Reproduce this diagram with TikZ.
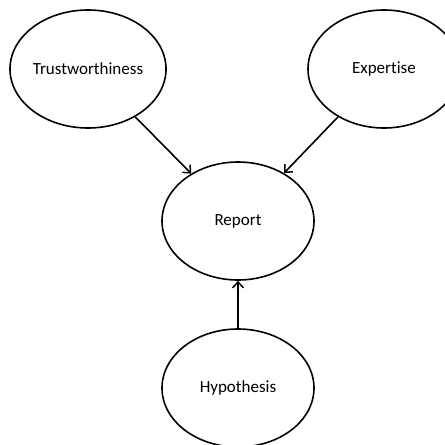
\documentclass[tikz,border=0pt]{standalone}
\usepackage{fontspec}
\setmainfont[Ligatures=NoCommon]{Carlito}
\usetikzlibrary{shapes.geometric,arrows.meta}

\tikzset{
  var/.style={draw, ellipse, line width=1.6pt, minimum width=152pt, minimum height=118pt,
    inner sep=0pt, font=\fontsize{17}{20}\selectfont},
  link/.style={line width=1.6pt, -{Straight Barb[length=6pt,width=11pt,line width=1.5pt]}}
}

\begin{document}
\begin{tikzpicture}[x=1pt, y=-1pt]
    \useasboundingbox (0,0) rectangle (445,445);

    \node[var] (trust) at (88,69) {Trustworthiness};
    \node[var] (expert) at (384,69) {Expertise};
    \node[var] (report) at (238,221) {Report};
    \node[var] (hypo) at (238,388) {Hypothesis};

    \draw[link] (trust) -- (report);
    \draw[link] (expert) -- (report);
    \draw[link] (hypo) -- (report);
  \end{tikzpicture}
\end{document}
